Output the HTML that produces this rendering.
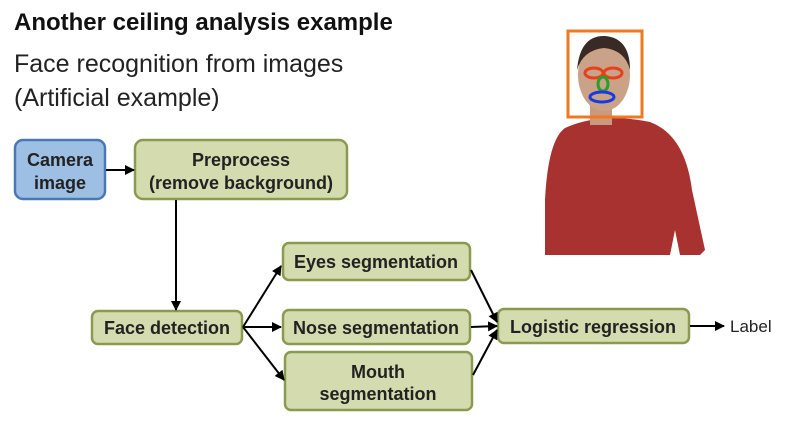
<!DOCTYPE html>
<html><head><meta charset="utf-8"><style>
body{margin:0;background:#fff;}
svg{display:block;font-family:"Liberation Sans",sans-serif;}
</style></head><body>
<svg width="785" height="429" viewBox="0 0 785 429">
<defs><marker id="a" markerWidth="10" markerHeight="10" refX="9" refY="5" orient="auto" markerUnits="userSpaceOnUse"><path d="M0,0 L10,5 L0,10z" fill="#000"/></marker></defs>
<rect width="785" height="429" fill="#fff"/>
<text x="14" y="30" font-size="24" font-weight="bold" fill="#111">Another ceiling analysis example</text>
<text x="14" y="72" font-size="25" fill="#222">Face recognition from images</text>
<text x="14" y="106" font-size="25" fill="#222">(Artificial example)</text>
<!-- person -->
<path d="M565,128 Q600,112 650,122 Q685,135 692,190 L705,250 L700,255 L680,255 L675,230 L670,255 L545,255 L545,200 Q548,140 565,128z" fill="#a8322f"/>
<rect x="590" y="105" width="22" height="20" fill="#c99a7f"/>
<ellipse cx="604" cy="75" rx="26" ry="36" fill="#c9a287"/>
<path d="M577,70 Q580,35 605,36 Q630,38 630,70 Q625,50 604,48 Q583,50 577,70z" fill="#3a2a25"/>
<rect x="568" y="31" width="74" height="86" fill="none" stroke="#f07820" stroke-width="3"/>
<ellipse cx="594" cy="73" rx="9" ry="5" fill="none" stroke="#e8401c" stroke-width="3"/>
<ellipse cx="613" cy="73" rx="9" ry="5" fill="none" stroke="#e8401c" stroke-width="3"/>
<ellipse cx="603" cy="84" rx="5" ry="7" fill="none" stroke="#2aa02a" stroke-width="3"/>
<ellipse cx="602" cy="97" rx="12" ry="5" fill="none" stroke="#1a3ae0" stroke-width="3"/>
<!-- boxes -->
<g stroke-width="2.5">
<rect x="15" y="140" width="90" height="59" rx="8" fill="#9dbfe3" stroke="#4a78b0"/>
<rect x="135" y="140" width="212" height="59" rx="8" fill="#d4dcaf" stroke="#8a9a50"/>
<rect x="92" y="311" width="150" height="33" rx="6" fill="#d4dcaf" stroke="#8a9a50"/>
<rect x="283" y="243" width="187" height="37" rx="6" fill="#d4dcaf" stroke="#8a9a50"/>
<rect x="283" y="310" width="187" height="34" rx="6" fill="#d4dcaf" stroke="#8a9a50"/>
<rect x="285" y="352" width="187" height="58" rx="6" fill="#d4dcaf" stroke="#8a9a50"/>
<rect x="498" y="309" width="191" height="34" rx="6" fill="#d4dcaf" stroke="#8a9a50"/>
</g>
<g font-size="18" font-weight="bold" fill="#222" text-anchor="middle">
<text x="60" y="166">Camera</text><text x="60" y="189">image</text>
<text x="241" y="166">Preprocess</text><text x="241" y="189">(remove background)</text>
<text x="167" y="334">Face detection</text>
<text x="376" y="268">Eyes segmentation</text>
<text x="376" y="334">Nose segmentation</text>
<text x="378" y="378">Mouth</text><text x="378" y="400">segmentation</text>
<text x="593" y="333">Logistic regression</text>
</g>
<text x="730" y="332" font-size="17" fill="#222">Label</text>
<g stroke="#000" stroke-width="2" marker-end="url(#a)">
<line x1="106" y1="170" x2="134" y2="170"/>
<line x1="176" y1="200" x2="176" y2="310"/>
<line x1="243" y1="327" x2="281" y2="266"/>
<line x1="243" y1="327" x2="281" y2="327"/>
<line x1="243" y1="327" x2="284" y2="380"/>
<line x1="471" y1="270" x2="497" y2="322"/>
<line x1="471" y1="327" x2="497" y2="326"/>
<line x1="473" y1="375" x2="497" y2="330"/>
<line x1="690" y1="326" x2="724" y2="326"/>
</g>
</svg>
</body></html>
